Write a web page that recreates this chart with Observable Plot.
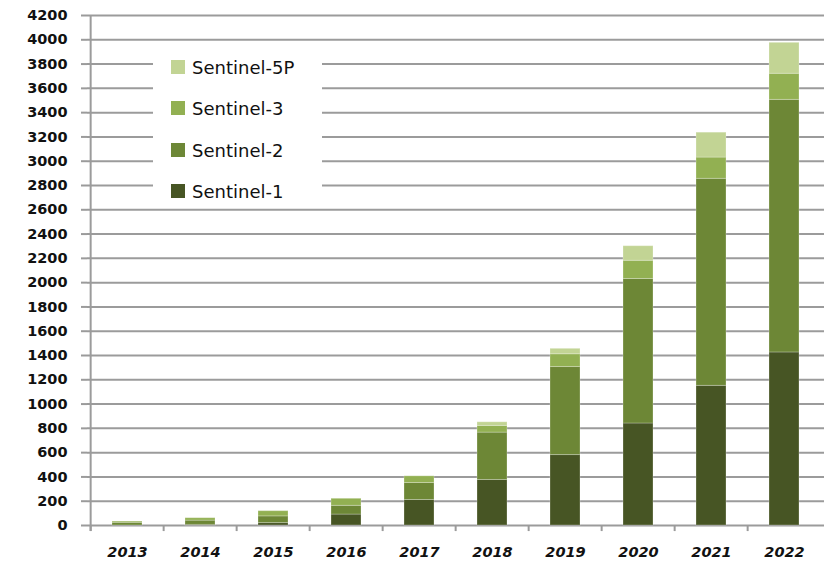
<!DOCTYPE html>
<html>
<head>
<meta charset="utf-8">
<script src="https://cdn.jsdelivr.net/npm/d3@7"></script>
<script src="https://cdn.jsdelivr.net/npm/@observablehq/plot@0.6"></script>
<style>
  html, body { margin: 0; padding: 0; background: #fff; }
  #wrap { position: relative; width: 824px; height: 563px; overflow: hidden; }
  #legend { position: absolute; left: 153px; top: 45px; width: 169px; height: 160px; background: #fff; font-family: "DejaVu Sans", sans-serif; font-size: 18px; color: #111; }
  .item { position: absolute; left: 18px; height: 20px; display: flex; align-items: center; }
  .sw { width: 14px; height: 14px; margin-right: 7px; }
</style>
</head>
<body>
<div id="wrap"><div id="legend"></div></div>
<script>
const years = ["2013","2014","2015","2016","2017","2018","2019","2020","2021","2022"];
const seriesNames = ["Sentinel-1","Sentinel-2","Sentinel-3","Sentinel-5P"];
const seriesColors = ["#475524","#6d8736","#92b052","#c2d494"];
const sentinel1  = [0, 5, 20, 90, 210, 375, 580, 840, 1150, 1425];
const sentinel2  = [22, 35, 55, 72, 140, 390, 725, 1190, 1705, 2080];
const sentinel3  = [10, 20, 43, 58, 55, 55, 105, 150, 175, 215];
const sentinel5p = [0, 0, 0, 0, 0, 30, 45, 120, 205, 255];
const yTicks = [0,200,400,600,800,1000,1200,1400,1600,1800,2000,2200,2400,2600,2800,3000,3200,3400,3600,3800,4000,4200];

const valuesBySeries = [sentinel1, sentinel2, sentinel3, sentinel5p];
const data = [];
seriesNames.forEach((s, i) => years.forEach((y, j) => data.push({year: y, series: s, value: valuesBySeries[i][j]})));

const W = 824, H = 563, ML = 87, MR = 0, MT = 15, MB = 38;
const step = (W - ML - MR) / years.length;

const chart = Plot.plot({
  width: W, height: H,
  marginLeft: ML, marginRight: MR, marginTop: MT, marginBottom: MB,
  style: {fontFamily: "DejaVu Sans, sans-serif", background: "#fff", color: "#111"},
  x: {domain: years, paddingInner: 0.59, paddingOuter: 0.295, label: null},
  y: {domain: [0, 4200], label: null},
  color: {domain: seriesNames, range: seriesColors},
  marks: [
    Plot.gridY(yTicks, {stroke: "#9b9b9b", strokeOpacity: 1, strokeWidth: 2}),
    Plot.barY(data, {x: "year", y: "value", fill: "series", order: seriesNames, stroke: "#ffffff", strokeOpacity: 0.25, strokeWidth: 1}),
    Plot.ruleX(years, {x: d => d, dx: -step / 2, y1: -50, y2: 0, stroke: "#9b9b9b", strokeWidth: 2}),
    Plot.ruleX([years[0]], {x: d => d, dx: -step / 2, y1: -50, y2: 4200, stroke: "#9b9b9b", strokeWidth: 2}),
    Plot.axisY({ticks: yTicks, tickFormat: d => String(d), tickSize: 6, tickPadding: 14, stroke: "#9b9b9b", strokeWidth: 2, fill: "#111", fontWeight: "bold", fontSize: 14.5, label: null}),
    Plot.axisX({tickSize: 0, tickPadding: 21, fill: "#111", fontWeight: "bold", fontStyle: "italic", fontSize: 14.5, label: null})
  ]
});
document.getElementById("wrap").prepend(chart);

const legend = document.getElementById("legend");
const rowTops = {"Sentinel-5P": 12, "Sentinel-3": 53, "Sentinel-2": 95, "Sentinel-1": 136};
seriesNames.slice().reverse().forEach(s => {
  const it = document.createElement("div");
  it.className = "item";
  it.style.top = rowTops[s] + "px";
  const sw = document.createElement("div");
  sw.className = "sw";
  sw.style.background = seriesColors[seriesNames.indexOf(s)];
  const tx = document.createElement("span");
  tx.textContent = s;
  it.appendChild(sw); it.appendChild(tx);
  legend.appendChild(it);
});
</script>
</body>
</html>
